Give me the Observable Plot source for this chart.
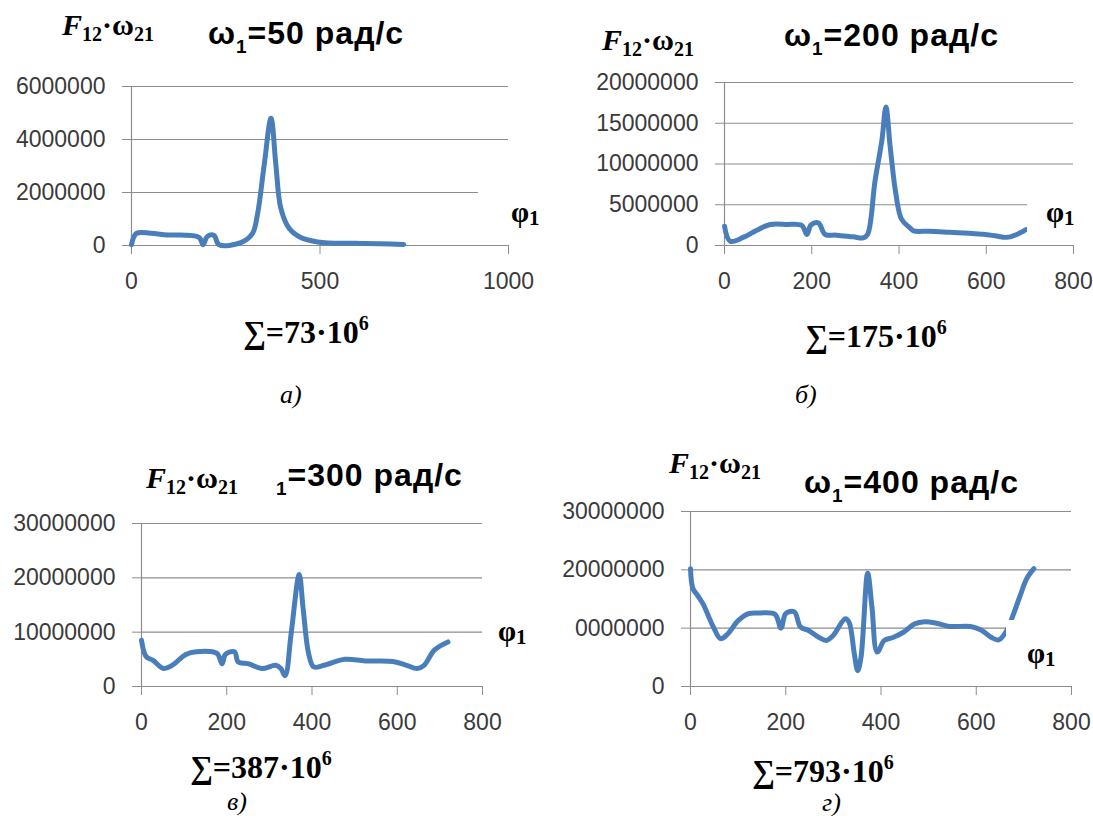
<!DOCTYPE html>
<html><head><meta charset="utf-8">
<script src="https://cdn.jsdelivr.net/npm/d3@7"></script>
<script src="https://cdn.jsdelivr.net/npm/@observablehq/plot@0.6"></script>
<style>
html,body{margin:0;padding:0;background:#fff;}
body{width:1093px;height:816px;position:relative;overflow:hidden;}
.abs{position:absolute;white-space:nowrap;line-height:1;z-index:2;color:#000;}
.tnr{font-family:"Liberation Serif","Times New Roman",serif;font-weight:bold;}
.lbl{font-size:30px;}
.lbl i{font-style:italic;}
.lbl .s{font-size:20px;position:relative;top:6px;}
.ttl{font-family:"Liberation Sans",Arial,sans-serif;font-weight:bold;font-size:32px;letter-spacing:1px;}
.ttl .s{font-size:19px;position:relative;top:9px;}
.phi{font-size:29px;}
.phi .s{font-size:21px;position:relative;top:3px;}
.sum{font-size:32px;}
.sum .p{font-size:20px;position:relative;top:-13px;}
.cap{font-family:"Liberation Serif","Times New Roman",serif;font-style:italic;font-size:26px;}
.box{position:absolute;background:#fff;z-index:1;}
svg{z-index:0;}
</style>
</head><body>
<script>
// ---------- data (φ1 in degrees, F12·ω21 values) ----------
const phiA = [0, 13, 50, 95, 179, 190, 201, 219, 232, 290, 321, 334, 352, 370, 383, 396, 418, 449, 494, 521, 612, 660, 722];
const valA = [30000, 460000, 460000, 400000, 310000, 30000, 340000, 380000, 30000, 110000, 460000, 1160000, 3040000, 4800000, 3040000, 1410000, 650000, 300000, 130000, 90000, 80000, 70000, 40000];

const phiB = [0, 13, 44, 74, 105, 143, 177, 189, 198, 215, 231, 257, 295, 318, 328, 345, 361, 370, 380, 393, 406, 425, 433, 470, 517, 560, 593, 620, 647, 670, 691];
const valB = [2370000, 530000, 1020000, 1880000, 2580000, 2580000, 2460000, 1350000, 2500000, 2780000, 1350000, 1270000, 1060000, 940000, 1350000, 7900000, 13000000, 17000000, 12000000, 6270000, 3200000, 2170000, 1800000, 1750000, 1620000, 1500000, 1380000, 1200000, 1000000, 1350000, 1950000];

const phiC = [0, 11, 27, 52, 72, 104, 129, 177, 189, 197, 218, 227, 250, 282, 315, 327, 337, 351, 370, 379, 392, 404, 428, 477, 525, 590, 622, 646, 663, 687, 719];
const valC = [8500000, 5500000, 4800000, 3300000, 3900000, 5900000, 6400000, 6100000, 4200000, 5900000, 6400000, 4500000, 4200000, 3300000, 3900000, 3300000, 2000000, 9700000, 20600000, 14500000, 6100000, 3600000, 3900000, 5000000, 4700000, 4600000, 3900000, 3300000, 3900000, 6700000, 8200000];

const phiD = [0, 5, 15, 26, 48, 63, 78, 100, 122, 144, 177, 190, 200, 218, 231, 248, 270, 285, 299, 325, 333, 344, 351, 358, 372, 381, 392, 407, 425, 447, 470, 492, 514, 543, 588, 610, 632, 647, 662, 673, 691, 706, 721];
const valD = [20200000, 16800000, 15600000, 14200000, 10200000, 8200000, 9000000, 11300000, 12500000, 12600000, 12400000, 10000000, 12500000, 12800000, 10200000, 9600000, 8400000, 7900000, 8700000, 11600000, 11000000, 5600000, 2700000, 5000000, 19400000, 13600000, 5900000, 7900000, 8400000, 9300000, 10700000, 11100000, 10900000, 10300000, 10300000, 9700000, 8400000, 8000000, 9300000, 11300000, 15300000, 18500000, 20200000];

// ---------- ticks ----------
const xTicksA = [0, 500, 1000];
const xTicksBCD = [0, 200, 400, 600, 800];
const yTicksA = [0, 2000000, 4000000, 6000000];
const yTicksB = [0, 5000000, 10000000, 15000000, 20000000];
const yTicksCD = [0, 10000000, 20000000, 30000000];
const yLabelsD = ["0", "0000000", "20000000", "30000000"]; // as printed (first digit cut off in the source)

const GRID = "#8c8c8c", LINE = "#4a7ebb", TXT = "#3a3a3a";
const FONT = "'Liberation Sans', Arial, sans-serif";

function panel(o) {
  const data = o.phi.map((p, i) => ({phi: p, v: o.val[i]}));
  const svg = Plot.plot({
    width: o.width, height: o.height,
    marginLeft: o.ml, marginRight: o.mr, marginTop: o.mt, marginBottom: o.mb,
    style: {fontFamily: FONT, fontSize: "23px", color: TXT, background: "transparent", overflow: "visible"},
    x: {domain: o.xDomain},
    y: {domain: o.yDomain},
    marks: [
      Plot.ruleY(o.yTicks, {stroke: GRID, strokeWidth: 1.2}),
      Plot.ruleX([0], {stroke: GRID, strokeWidth: 1.2}),
      Plot.axisY(o.yTicks, {tickSize: 9, tickPadding: 17, stroke: GRID, fill: TXT, fontSize: 23,
        tickFormat: o.yFormat || (d => String(d)), label: null}),
      Plot.axisX(o.xTicks, {tickSize: 9, tickPadding: 18, stroke: GRID, fill: TXT, fontSize: 23,
        tickFormat: d => String(d), label: null}),
      Plot.line(data, {x: "phi", y: "v", curve: "catmull-rom", stroke: LINE, strokeWidth: 5,
        strokeLinejoin: "round", strokeLinecap: "round"})
    ]
  });
  svg.style.position = "absolute";
  svg.style.left = o.left + "px";
  svg.style.top = o.top + "px";
  svg.style.maxWidth = "none";
  document.body.appendChild(svg);
}

panel({phi: phiA, val: valA, xDomain: [0, 1000], xTicks: xTicksA, yDomain: [0, 6000000], yTicks: yTicksA,
  left: 0, top: 0, width: 540, height: 300, ml: 131, mr: 32, mt: 86, mb: 55});
panel({phi: phiB, val: valB, xDomain: [0, 800], xTicks: xTicksBCD, yDomain: [0, 20000000], yTicks: yTicksB,
  left: 540, top: 0, width: 553, height: 300, ml: 184, mr: 20, mt: 82, mb: 55});
panel({phi: phiC, val: valC, xDomain: [0, 800], xTicks: xTicksBCD, yDomain: [0, 30000000], yTicks: yTicksCD,
  left: 0, top: 420, width: 540, height: 330, ml: 141, mr: 58, mt: 103, mb: 64});
panel({phi: phiD, val: valD, xDomain: [0, 800], xTicks: xTicksBCD, yDomain: [0, 30000000], yTicks: yTicksCD,
  yFormat: (d, i) => yLabelsD[yTicksCD.indexOf(d)],
  left: 540, top: 420, width: 553, height: 330, ml: 150, mr: 22, mt: 91, mb: 64});

// ---------- text ----------
const Flabel = '<i>F</i><span class="s">12</span>·ω<span class="s">21</span>';
const texts = [
  // panel a
  {cls: "tnr lbl", x: 62, y: 10, html: Flabel},
  {cls: "ttl", x: 208, y: 17, html: 'ω<span class="s">1</span>=50 рад/с'},
  {cls: "tnr phi", x: 511, y: 198, html: 'φ<span class="s">1</span>'},
  {cls: "tnr sum", x: 243, y: 316, html: '∑=73·10<span class="p">6</span>'},
  {cls: "cap", x: 280, y: 382, html: 'а)'},
  // panel b
  {cls: "tnr lbl", x: 602, y: 25, html: Flabel},
  {cls: "ttl", x: 784, y: 19, html: 'ω<span class="s">1</span>=200 рад/с'},
  {cls: "tnr phi", x: 1046, y: 198, html: 'φ<span class="s">1</span>'},
  {cls: "tnr sum", x: 805, y: 320, html: '∑=175·10<span class="p">6</span>'},
  {cls: "cap", x: 795, y: 382, html: 'б)'},
  // panel c
  {cls: "tnr lbl", x: 146, y: 463, html: Flabel},
  {cls: "ttl", x: 276, y: 459, html: '<span class="s">1</span>=300 рад/с'},
  {cls: "tnr phi", x: 498, y: 617, html: 'φ<span class="s">1</span>'},
  {cls: "tnr sum", x: 190, y: 751, html: '∑=387·10<span class="p">6</span>'},
  {cls: "cap", x: 227, y: 789, html: 'в)'},
  // panel d
  {cls: "tnr lbl", x: 669, y: 448, html: Flabel},
  {cls: "ttl", x: 804, y: 466, html: 'ω<span class="s">1</span>=400 рад/с'},
  {cls: "tnr phi", x: 1027, y: 639, html: 'φ<span class="s">1</span>'},
  {cls: "tnr sum", x: 752, y: 755, html: '∑=793·10<span class="p">6</span>'},
  {cls: "cap", x: 822, y: 790, html: 'г)'}
];
// white label boxes that hide part of the grid / curve, as in the source
const boxes = [
  {x: 478, y: 184, w: 62, h: 50},
  {x: 1027, y: 196, w: 66, h: 40},
  {x: 1006, y: 620, w: 87, h: 60}
];
for (const b of boxes) {
  const d = document.createElement("div");
  d.className = "box";
  Object.assign(d.style, {left: b.x + "px", top: b.y + "px", width: b.w + "px", height: b.h + "px"});
  document.body.appendChild(d);
}
for (const t of texts) {
  const d = document.createElement("div");
  d.className = "abs " + t.cls;
  d.style.left = t.x + "px";
  d.style.top = t.y + "px";
  d.innerHTML = t.html;
  document.body.appendChild(d);
}
</script>
</body></html>
